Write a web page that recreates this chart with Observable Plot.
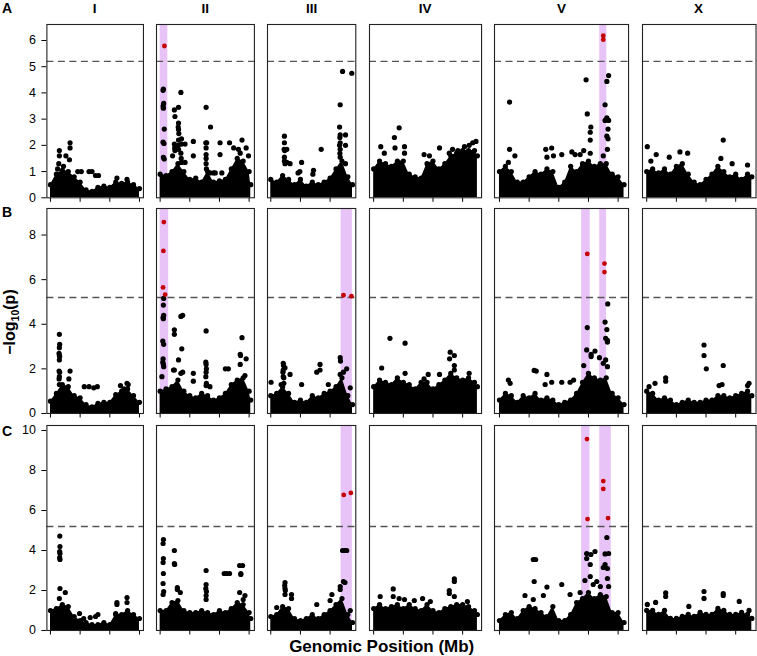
<!DOCTYPE html>
<html><head><meta charset="utf-8">
<script src="https://cdn.jsdelivr.net/npm/d3@7"></script>
<script src="https://cdn.jsdelivr.net/npm/@observablehq/plot@0.6"></script>
<style>
body{margin:0;background:#fff;}
#fig{position:relative;width:757px;height:656px;overflow:hidden;background:#fff;font-family:"Liberation Sans",Arial,Helvetica,sans-serif;}
#fig svg{overflow:visible;}
</style></head><body><div id="fig"></div>
<script>
// ---------- data ----------
const chromosomes = ["I","II","III","IV","V","X"];
const chromLengthsMb = [15.07,15.28,13.78,17.49,20.92,17.72];
const rowLabels = ["A","B","C"];
const yMaxByRow = [6.61, 9.19, 10.25];
const yTicksByRow = [[0,1,2,3,4,5,6],[0,2,4,6,8],[0,2,4,6,8,10]];
const xTicksMb = [0,5,10,15,20];
const significanceThreshold = 5.2;

// upper edge of the dense cloud of markers (-log10 p), read at 0,1,2,... Mb and at the chromosome end
const massA = [
  [0.5,0.9,1.05,1.0,0.8,0.6,0.3,0.25,0.4,0.45,0.4,0.6,0.55,0.6,0.5,0.35],
  [0.9,0.85,1.0,1.3,1.0,0.7,0.75,0.6,1.0,0.6,0.65,0.7,1.1,1.5,1.4,1.0,0.5],
  [0.7,0.6,0.85,0.7,0.5,0.7,0.45,0.6,0.5,0.6,0.75,1.1,1.4,0.8,0.5],
  [1.1,1.4,1.3,1.2,1.4,1.4,0.9,0.8,0.75,1.3,1.4,1.1,1.3,1.6,1.7,1.8,1.8,1.8,1.6],
  [1.0,1.2,1.0,0.6,0.6,0.8,1.0,0.9,1.1,1.0,0.4,0.6,1.2,1.0,1.3,1.4,1.2,1.3,1.3,0.9,0.8,0.5],
  [1.0,1.1,0.95,1.1,0.9,1.2,1.3,0.9,0.6,0.5,0.7,0.9,1.2,1.0,0.8,0.9,0.7,0.9,0.8]
];
const massB = [
  [0.55,0.9,1.3,1.2,0.8,0.7,0.4,0.3,0.45,0.5,0.5,0.85,1.0,1.1,0.8,0.5],
  [1.0,1.1,1.2,1.5,1.0,0.8,0.7,0.9,0.8,0.6,0.7,0.9,1.3,1.5,1.6,1.0,0.6],
  [0.8,0.9,1.2,0.9,0.5,0.6,0.5,0.8,0.7,0.9,1.0,1.2,1.6,0.8,0.4],
  [1.2,1.5,1.4,1.3,1.6,1.4,1.3,1.1,1.4,1.4,1.1,1.3,1.5,1.8,1.6,1.5,1.6,1.4,1.2],
  [0.6,0.9,0.8,0.5,0.8,0.7,0.9,0.6,0.7,0.6,0.4,0.5,0.6,0.9,1.4,1.8,1.6,1.5,1.6,0.9,0.7,0.4],
  [1.0,0.9,0.6,0.7,0.6,0.4,0.5,0.6,0.5,0.5,0.6,0.6,0.8,0.8,0.7,0.8,0.9,1.0,0.8]
];
const massC = [
  [1.0,1.1,1.3,1.2,0.7,0.5,0.4,0.3,0.3,0.4,0.3,0.8,0.8,1.0,0.8,0.6],
  [1.0,1.0,1.4,1.5,1.0,0.9,0.9,1.0,0.9,0.8,1.0,0.9,1.1,1.4,1.3,0.9,0.6],
  [0.7,0.8,1.2,1.1,0.6,0.5,0.6,0.8,0.6,0.8,1.0,1.3,1.6,0.8,0.4],
  [1.1,1.3,1.1,1.2,1.3,1.1,1.3,1.1,1.0,1.3,1.0,0.9,1.1,1.2,1.3,1.3,1.2,1.0,0.8],
  [0.5,0.8,0.9,0.6,1.0,1.2,1.1,0.9,0.7,1.2,0.5,0.5,0.8,1.4,1.6,1.9,1.6,1.8,1.7,0.9,0.9,0.4],
  [1.0,1.0,0.8,1.0,0.6,0.6,0.7,0.8,0.7,0.9,0.8,0.8,1.1,1.0,0.8,0.8,0.9,0.8,0.6]
];

// individual markers above the cloud: [position Mb, -log10 p]
const markersA = [
  [[1.5,1.8],[1.5,1.6],[1.4,1.3],[2.6,1.6],[3.3,2.1],[3.3,1.9],[3.2,1.45],[4.6,1.0],[5.2,1.0],[6.5,1.0],[7.0,1.0],[7.6,0.85],[8.1,0.85],[11.2,0.75],[12.9,0.7],[1.2,1.1],[2.2,1.2]],
  [[0.55,4.15],[0.5,4.1],[0.6,3.6],[0.5,3.5],[0.55,3.42],[0.7,2.62],[0.5,2.12],[0.65,2.07],[0.55,1.54],[0.7,1.48],
   [2.4,3.35],[2.5,3.1],[2.4,2.05],[2.45,1.9],[2.5,1.8],[2.1,1.6],
   [3.1,3.45],[3.1,2.85],[3.05,2.7],[3.1,2.6],[3.15,2.45],[3.1,2.2],[3.05,2.0],[3.1,1.85],
   [3.5,4.02],[3.6,2.25],[3.6,2.05],[3.5,1.7],[3.55,1.5],[3.6,1.35],
   [4.2,2.05],[4.2,1.35],[5.6,2.15],[5.6,1.6],
   [7.75,3.45],[7.7,2.1],[7.85,2.1],[7.75,1.9],[7.75,1.65],[7.75,1.5],[7.75,1.3],[7.8,1.1],
   [8.5,2.7],[8.4,0.95],[9.0,0.95],[9.3,0.95],[10.1,2.1],[10.1,1.65],[10.4,0.95],
   [11.7,2.1],[12.4,1.9],[13.2,1.85],[13.8,2.2],[14.5,1.9],[13.5,1.7],[14.9,1.6]],
  [[2.3,2.35],[2.3,2.1],[2.25,1.85],[2.35,1.8],[2.3,1.55],[2.3,1.4],[2.4,1.3],[2.7,1.85],[2.7,1.35],[3.25,1.3],
   [5.2,1.35],[4.9,1.0],[4.6,0.95],[7.2,1.05],[7.1,0.9],[8.5,1.85],
   [11.7,3.55],[11.6,2.7],[11.7,2.4],[11.65,2.3],[11.7,2.1],[11.6,2.0],[11.7,1.85],[11.65,1.7],[11.7,1.55],
   [12.1,4.82],[13.65,4.75],[12.6,2.4],[12.6,2.0],[12.6,1.3]],
  [[4.3,2.67],[3.5,2.3],[1.2,1.95],[1.8,1.7],[3.6,1.9],[5.2,1.95],[5.2,1.7],[8.5,1.65],[9.4,1.6],[11.1,1.9],[12.75,1.7],[13.3,1.85],[14.2,1.8],[15.3,1.95],[16.1,2.0],[17.25,2.15],[16.7,2.1]],
  [[1.7,3.65],[1.7,1.85],[2.6,1.6],[1.5,1.35],[7.8,1.85],[8.8,1.9],[8.0,1.55],[9.1,1.6],[10.5,1.65],[12.2,1.75],[12.75,1.65],[13.6,1.65],[14.2,1.8],[15.3,1.7],
   [14.6,4.5],[14.8,3.2],[15.4,2.7],[15.3,2.5],[15.3,2.2],
   [17.8,3.55],[18.1,3.05],[18.4,2.95],[17.8,2.95],[18.3,2.62],[18.1,2.35],[18.3,2.25],[18.2,1.85],[17.5,1.6],[18.4,4.66],[18.1,4.44]],
  [[0.1,1.95],[1.6,1.65],[3.8,1.55],[5.6,1.75],[6.9,1.7],[12.9,2.2],[12.5,1.5],[14.4,1.3],[17.0,1.25],[0.7,1.4]]
];
const markersB = [
  [[1.5,3.55],[1.55,3.1],[1.5,2.95],[1.45,2.7],[1.5,2.6],[1.55,2.55],[1.5,2.4],[1.45,1.9],[1.55,1.85],[1.5,1.65],[1.45,1.55],[1.5,1.3],[3.3,1.9],[3.1,1.55],[5.7,1.2],[6.5,1.2],[7.3,1.15],[7.9,1.2],[11.8,1.25],[12.9,1.35],[13.1,1.3],[12.4,1.1]],
  [[0.6,5.16],[0.55,4.86],[0.6,4.4],[0.5,4.3],[0.55,4.25],[0.45,3.25],[0.6,3.1],[0.5,2.45],[0.45,2.3],[0.55,2.2],[0.6,2.1],[0.3,1.65],
   [3.5,4.35],[3.8,4.4],[2.4,3.75],[2.4,3.55],[3.65,2.9],[3.1,2.4],[2.25,1.95],[2.4,1.95],[3.5,1.8],[3.8,1.85],
   [5.6,1.8],[5.6,1.45],[7.75,3.7],[7.7,2.3],[7.75,2.2],[7.8,2.0],[7.75,1.85],[7.7,1.65],[7.8,1.35],[7.75,1.25],[8.4,1.2],
   [11.0,2.0],[11.5,2.0],[13.5,2.65],[13.55,2.6],[13.5,2.2],[13.8,3.4],[14.5,2.45],[14.3,1.7]],
  [[2.1,2.25],[2.15,2.15],[2.1,1.95],[2.05,1.85],[2.1,1.65],[2.2,1.6],[2.4,2.05],[2.2,1.35],[3.25,1.75],[1.75,1.3],[0.05,1.4],[5.2,1.3],[7.75,1.85],[8.3,2.2],[8.3,1.95],[9.7,1.3],[11.7,2.5],[11.75,2.35],[11.7,1.75],[12.25,1.85],[12.8,2.0],[13.4,1.15]],
  [[2.75,3.37],[5.3,3.15],[1.35,2.04],[12.9,2.75],[13.6,2.6],[12.8,2.45],[13.6,2.15],[11.1,1.75],[9.2,1.75],[16.1,1.8],[5.3,1.8],[8.5,1.55],[13.6,1.95]],
  [[18.25,4.91],[17.8,4.1],[18.1,3.76],[17.9,3.37],[18.2,3.28],[18.2,3.2],[14.8,3.85],[14.7,2.85],[15.45,2.65],[15.45,2.55],[16.1,2.8],[16.85,2.5],[17.9,2.4],[18.2,2.1],[17.5,2.25],[14.2,2.15],[5.85,1.93],[6.2,1.9],[8.0,1.75],[1.5,1.5],[1.8,1.35],[7.7,1.3],[8.8,1.4],[10.5,1.4],[11.9,1.4],[12.5,1.5]],
  [[9.66,3.07],[9.66,2.6],[10.05,2.0],[12.9,2.15],[3.2,1.6],[3.2,1.45],[1.4,1.35],[0.4,1.2],[17.25,1.35],[17.0,1.25],[12.2,1.25],[12.7,1.3]]
];
const markersC = [
  [[1.57,4.72],[1.6,4.2],[1.55,3.95],[1.6,3.85],[1.55,3.65],[1.6,3.55],[1.6,2.1],[1.5,1.6],[2.5,1.9],[4.9,0.85],[5.6,0.6],[6.7,0.65],[7.6,0.7],[8.0,0.8],[11.2,1.4],[11.2,1.3],[12.9,1.65],[12.9,1.4],[11.0,0.85]],
  [[0.56,4.55],[0.5,4.35],[0.55,3.6],[0.5,3.4],[0.55,2.85],[0.5,2.35],[0.6,1.95],[0.5,1.8],[2.4,4.0],[2.4,3.35],[2.45,3.3],[2.9,2.15],[2.9,2.05],[3.4,1.9],[7.75,3.0],[7.75,2.3],[7.7,2.1],[7.8,1.95],[7.75,1.75],[7.75,1.55],[10.8,2.85],[11.2,2.85],[11.7,2.85],[13.4,3.25],[13.6,2.85],[13.6,2.8],[13.9,3.25],[13.4,1.9],[14.3,1.75],[14.0,1.55]],
  [[12.1,4.0],[12.5,4.0],[12.8,4.0],[12.25,2.45],[12.5,2.4],[11.7,2.2],[11.7,2.05],[13.4,1.0],[2.4,2.4],[2.35,2.25],[2.4,2.1],[2.45,2.0],[2.4,1.8],[3.5,1.8],[3.5,1.6],[1.0,1.15],[7.75,1.3],[10.3,1.8],[10.0,1.5]],
  [[13.6,2.58],[13.6,2.45],[12.75,2.0],[12.75,1.85],[13.6,1.7],[3.3,2.08],[3.3,1.7],[1.1,1.7],[4.3,1.6],[5.2,1.55],[6.85,1.5],[8.25,1.6],[9.55,1.45],[15.8,1.45]],
  [[18.1,4.65],[17.8,3.83],[18.4,3.85],[14.7,3.85],[14.7,3.6],[15.4,3.8],[16.1,3.95],[15.3,3.3],[17.8,3.3],[18.2,3.1],[17.5,3.15],[5.7,3.55],[6.1,3.55],[5.85,2.45],[8.0,2.17],[10.5,2.3],[4.3,1.75],[5.7,1.55],[7.4,1.75],[11.9,1.8],[13.6,1.9],[14.4,2.5],[15.3,2.7],[15.8,2.3],[16.4,2.45],[17.0,2.2],[18.2,2.6],[18.4,2.2]],
  [[3.2,1.88],[3.2,1.7],[9.66,1.95],[9.66,1.6],[12.9,1.85],[12.9,1.75],[15.6,1.45],[0.1,1.3],[1.5,1.4],[7.1,1.2],[17.25,1.0]]
];

// highlighted QTL intervals [start Mb, end Mb]
const bandsA = [[], [[0,1.3]], [], [], [[16.9,18.1]], []];
const bandsB = [[], [[0,1.45]], [[11.85,13.75]], [], [[13.85,15.3],[16.9,18.05]], []];
const bandsC = [[], [], [[11.85,13.75]], [], [[13.85,15.25],[16.9,18.85]], []];

// significant markers (red): [position Mb, -log10 p]
const hitsA = [[], [[0.72,5.79]], [], [], [[17.5,6.18],[17.5,6.03]], []];
const hitsB = [[], [[0.62,8.58],[0.55,7.29],[0.5,5.65],[0.85,5.33]], [[12.25,5.3],[13.6,5.26]], [], [[14.8,7.16],[17.7,6.72],[17.7,6.34]], []];
const hitsC = [[], [], [[12.3,6.78],[13.5,6.88]], [], [[14.75,9.57],[14.85,5.57],[17.5,7.47],[17.5,7.08],[18.3,5.62]], []];

// ---------- layout ----------
const massRows = [massA, massB, massC];
const markerRows = [markersA, markersB, markersC];
const bandRows = [bandsA, bandsB, bandsC];
const hitRows = [hitsA, hitsB, hitsC];

const pxPerMb = 5.933, colGap = 13.3, firstLeft = 46.4;
const rowTops = [23.7, 208.3, 425], rowBottoms = [197, 413.3, 630];
const fig = document.getElementById("fig");
const FONT = '"Liberation Sans", Arial, Helvetica, sans-serif';

const frameLefts = [];
{
  let x = firstLeft;
  chromLengthsMb.forEach(L => { frameLefts.push(x); x += L * 1.08 * pxPerMb + colGap; });
}

for (let r = 0; r < 3; r++) {
  for (let c = 0; c < 6; c++) {
    const L = chromLengthsMb[c];
    const fw = L * 1.08 * pxPerMb;
    const fh = rowBottoms[r] - rowTops[r];
    const ml = c === 0 ? 46.4 : 2, mr = 2, mt = 2, mb = 8;
    const massVals = massRows[r][c];
    const mass = massVals.map((v, i) => ({pos: i < massVals.length - 1 || Math.abs(L - i) < 0.1 ? i : L, v}));
    const marks = markerRows[r][c].map(([pos, v]) => ({pos, v}));
    const bands = bandRows[r][c].map(([s, e]) => ({s, e}));
    const hits = hitRows[r][c].map(([pos, v]) => ({pos, v}));
    const svg = Plot.plot({
      width: fw + ml + mr, height: fh + mt + mb,
      marginLeft: ml, marginRight: mr, marginTop: mt, marginBottom: mb,
      style: {fontFamily: FONT, fontSize: "12.5px", color: "#000", background: "none", overflow: "visible"},
      x: {domain: [-0.04 * L, 1.04 * L], ticks: xTicksMb.filter(t => t <= L), tickSize: 4.5, tickFormat: () => "", label: null},
      y: {domain: [0, yMaxByRow[r]], ticks: yTicksByRow[r], tickSize: 5, tickPadding: 6, tickFormat: d => String(d), label: null, axis: c === 0 ? "left" : null},
      marks: [
        Plot.rect(bands, {x1: "s", x2: "e", fill: "#e8c3f7"}),
        Plot.ruleY([significanceThreshold], {stroke: "#555", strokeWidth: 1.3, strokeDasharray: "7,4.5"}),
        Plot.areaY(mass, {x: "pos", y: "v", fill: "#000", curve: "linear", clip: true}),
        Plot.dot(mass, {x: "pos", y: "v", r: 2.6, fill: "#000", clip: true}),
        Plot.dot(marks, {x: "pos", y: "v", r: 2.6, fill: "#000", clip: true}),
        Plot.dot(hits, {x: "pos", y: "v", r: 2.4, fill: "#c40000"}),
        Plot.frame({stroke: "#222", strokeWidth: 1.1})
      ]
    });
    svg.style.position = "absolute";
    svg.style.left = (frameLefts[c] - ml) + "px";
    svg.style.top = (rowTops[r] - mt) + "px";
    fig.appendChild(svg);
  }
}

// ---------- text overlay ----------
const ov = d3.select(fig).append("svg")
  .attr("width", 757).attr("height", 656)
  .style("position", "absolute").style("left", "0px").style("top", "0px")
  .style("pointer-events", "none")
  .attr("font-family", FONT);

const letterBaselines = [13.3, 216.7, 436];
rowLabels.forEach((t, i) => ov.append("text").attr("x", 2).attr("y", letterBaselines[i])
  .attr("font-size", 14).attr("font-weight", "bold").text(t));

chromosomes.forEach((t, c) => {
  const cx = frameLefts[c] + chromLengthsMb[c] * 1.08 * pxPerMb / 2;
  ov.append("text").attr("x", cx).attr("y", 13.3).attr("text-anchor", "middle")
    .attr("font-size", 13.5).attr("font-weight", "bold").text(t);
});

ov.append("text").attr("x", 381.7).attr("y", 652).attr("text-anchor", "middle")
  .attr("font-size", 17).attr("font-weight", "bold").text("Genomic Position (Mb)");

const yt = ov.append("text").attr("transform", "translate(15,322) rotate(-90)")
  .attr("text-anchor", "middle").attr("font-size", 16).attr("font-weight", "bold");
yt.append("tspan").text("\u2212log");
yt.append("tspan").attr("font-size", 10.5).attr("dy", 4).text("10");
yt.append("tspan").attr("dy", -4).text("(p)");
</script></body></html>
